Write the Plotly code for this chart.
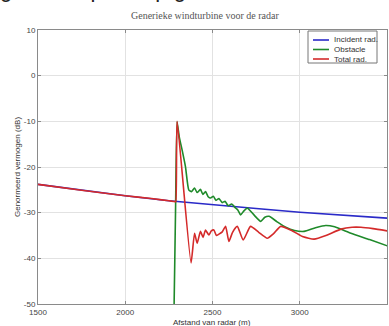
import plotly.graph_objects as go

# ---- data ----
incident_x = [1500, 1750, 2000, 2250, 2500, 2750, 3000, 3250, 3500]
incident_y = [-23.8, -25.1, -26.3, -27.4, -28.3, -29.1, -29.9, -30.6, -31.2]

obstacle_x = [2274, 2280, 2288, 2297, 2310, 2326, 2345, 2364, 2380, 2397, 2412, 2431,
              2445, 2460, 2475, 2489, 2505, 2520, 2537, 2556, 2572, 2590, 2610, 2630,
              2645, 2661, 2680, 2700, 2740, 2776, 2800, 2824, 2870, 2920, 2970, 3025,
              3090, 3149, 3200, 3293, 3400, 3504]
obstacle_y = [-60, -50, -30, -10.1, -13.5, -16.3, -19.9, -25.0, -25.4, -24.6, -25.6, -24.9,
              -26.0, -25.4, -26.5, -26.8, -26.4, -27.3, -26.9, -27.8, -27.5, -28.5, -28.1, -28.9,
              -29.4, -30.5, -29.6, -29.0, -30.6, -31.9, -31.0, -30.8, -32.0, -33.2, -33.9, -34.1,
              -33.3, -32.8, -33.1, -34.5, -35.9, -37.3]

total_x = [1500, 1750, 2000, 2150, 2250, 2280, 2287, 2290, 2297, 2377, 2397, 2412, 2431, 2446, 2460,
           2479, 2493, 2508, 2522, 2537, 2556, 2575, 2594, 2615, 2642, 2676, 2718, 2765, 2814,
           2850, 2891, 2958, 3020, 3082, 3150, 3236, 3300, 3351, 3420, 3504]
total_y = [-23.8, -25.1, -26.3, -26.9, -27.4, -27.55, -27.6, -27.6, -10.0, -41.0, -34.5, -36.7, -34.1,
           -35.4, -33.8, -34.9, -34.0, -33.8, -35.0, -34.7, -34.2, -33.0, -36.3, -34.3, -33.0, -36.0,
           -33.0, -34.3, -35.6, -34.6, -33.0, -34.0, -35.3, -35.8, -35.0, -33.6, -33.2, -33.2, -33.5,
           -34.0]

series_names = ["Incident rad.", "Obstacle", "Total rad."]
series_colors = ["#2a2ac8", "#1f8a2a", "#d42a2a"]

x_ticks = [1500, 2000, 2500, 3000, 3500]
y_ticks = [-50, -40, -30, -20, -10, 0, 10]

title_text = "Generieke windturbine voor de radar"
x_title = "Afstand van radar (m)"
y_title = "Genormeerd vermogen (dB)"
doc_fragment = "g van de plots op grote afstand van een windturbine op de"

# ---- figure ----
fig = go.Figure()
for xs, ys, name, col, shp in [(incident_x, incident_y, series_names[0], series_colors[0], "linear"),
                               (obstacle_x, obstacle_y, series_names[1], series_colors[1], "spline"),
                               (total_x, total_y, series_names[2], series_colors[2], "spline")]:
    fig.add_trace(go.Scatter(x=xs, y=ys, mode="lines", name=name,
                             line=dict(color=col, width=1.6, shape=shp, smoothing=0.5),
                             showlegend=False))

W, H = 389, 326
L, R, T, B = 38, 2, 30, 22
pw, ph = W - L - R, H - T - B

def px2paper(px, py):
    return (px - L) / pw, (H - B - py) / ph

axis_common = dict(showgrid=True, gridcolor="#e2e2e2", gridwidth=1,
                   showline=True, linecolor="#8a8a8a", linewidth=1, mirror="ticks",
                   ticks="inside", ticklen=3, tickcolor="#8a8a8a",
                   tickfont=dict(family="Arial, Liberation Sans, sans-serif", size=8, color="#444"),
                   zeroline=False)

fig.update_layout(
    width=W, height=H,
    margin=dict(l=L, r=R, t=T, b=B),
    paper_bgcolor="white", plot_bgcolor="white",
    xaxis=dict(range=[1500, 3500], tickvals=x_ticks, ticktext=[str(v) for v in x_ticks], **axis_common),
    yaxis=dict(range=[-50, 10], tickvals=y_ticks, ticktext=[str(v) for v in y_ticks], **axis_common),
)

ann = []
# title
tx, ty = px2paper(205, 16)
ann.append(dict(text=title_text, x=tx, y=ty, xref="paper", yref="paper", showarrow=False,
                xanchor="center", yanchor="middle",
                font=dict(family="Liberation Serif, DejaVu Serif, serif", size=10, color="#555")))
# cropped document line at the very top (only its lower edge is visible in the reference)
fx, fy = px2paper(-2, 4)
ann.append(dict(text=doc_fragment, x=fx, y=fy, xref="paper", yref="paper", showarrow=False,
                xanchor="left", yanchor="bottom",
                font=dict(family="Liberation Sans, Arial, sans-serif", size=22, color="#222")))
# axis titles
ax_, ay_ = px2paper(212, 322)
ann.append(dict(text=x_title, x=ax_, y=ay_, xref="paper", yref="paper", showarrow=False,
                xanchor="center", yanchor="middle",
                font=dict(family="Arial, Liberation Sans, sans-serif", size=8, color="#333")))
yx_, yy_ = px2paper(17, 167)
ann.append(dict(text=y_title, x=yx_, y=yy_, xref="paper", yref="paper", showarrow=False,
                xanchor="center", yanchor="middle", textangle=-90,
                font=dict(family="Arial, Liberation Sans, sans-serif", size=8, color="#333")))

shapes = []
# manual legend box
bx0, by1 = px2paper(308, 31)
bx1, by0 = px2paper(377, 63)
shapes.append(dict(type="rect", xref="paper", yref="paper", x0=bx0, x1=bx1, y0=by0, y1=by1,
                   line=dict(color="#777", width=1), fillcolor="white", layer="above"))
for i, (name, col) in enumerate(zip(series_names, series_colors)):
    rowy = 40 + i * 9.5
    lx0, ly = px2paper(313, rowy)
    lx1, _ = px2paper(329, rowy)
    shapes.append(dict(type="line", xref="paper", yref="paper", x0=lx0, x1=lx1, y0=ly, y1=ly,
                       line=dict(color=col, width=1.6), layer="above"))
    tx2, _ = px2paper(332, rowy)
    ann.append(dict(text=name, x=tx2, y=ly, xref="paper", yref="paper", showarrow=False,
                    xanchor="left", yanchor="middle",
                    font=dict(family="Arial, Liberation Sans, sans-serif", size=8, color="#333")))

fig.update_layout(annotations=ann, shapes=shapes)
fig.write_html("out.html")
